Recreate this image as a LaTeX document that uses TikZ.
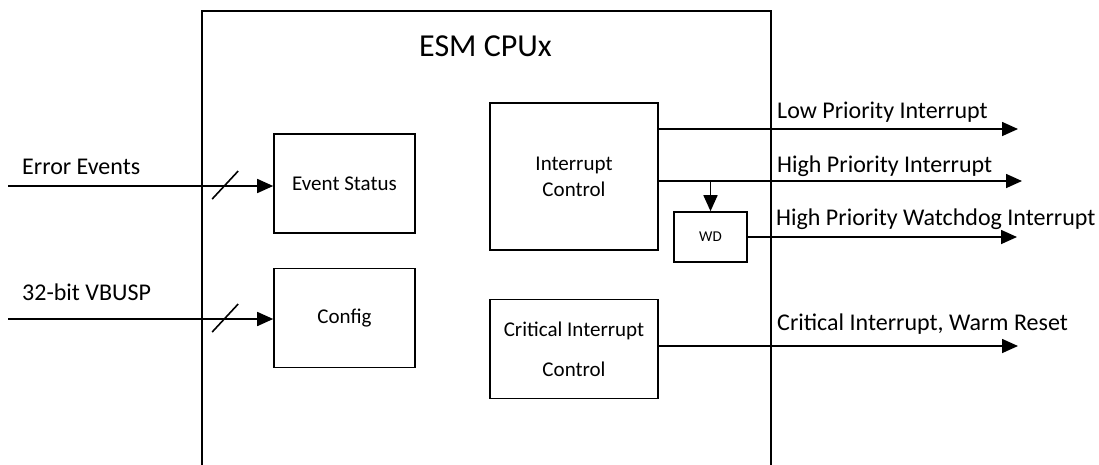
\documentclass[tikz,border=0pt]{standalone}
\usepackage{fontspec}
\setmainfont{Carlito}
\usepackage{tikz}
\usetikzlibrary{arrows.meta,positioning,calc}
\tikzset{
  >={Triangle[length=16pt,width=14pt]},
  eblock/.style={draw=black, line width=1.6pt, align=center, inner sep=0pt,
                 font=\fontsize{21}{26}\selectfont},
  eframe/.style={draw=black, line width=1.6pt},
  esig/.style={->, line width=1.6pt},
  ebus/.style={line width=1.6pt},
  elbl/.style={anchor=base west, inner sep=0pt, font=\fontsize{24}{28}\selectfont},
  etitle/.style={inner sep=0pt, font=\fontsize{32}{38}\selectfont},
}
\begin{document}
\begin{tikzpicture}[x=1pt,y=-1pt]
  \useasboundingbox (0,0) rectangle (1099,464);

  % CPU frame, runs off the bottom edge
  \node[eframe, anchor=north west, minimum width=569pt, minimum height=470pt]
    (cpu) at (201,10) {};
  \node[etitle] (title) at (485.5,46) {ESM CPUx};

  % blocks
  \node[eblock, minimum width=141pt, minimum height=99pt] (evstat) at (344.5,183.5) {Event Status};
  \node[eblock, minimum width=141pt, minimum height=99pt, below=34pt of evstat] (config) {Config};
  \node[eblock, minimum width=168pt, minimum height=147pt] (intc) at (574,176.5) {Interrupt\\Control};
  \node[eblock, minimum width=168pt, minimum height=99pt, below=48pt of intc,
        font=\fontsize{21}{40}\selectfont] (crit) {Critical Interrupt\\Control};
  \node[eblock, minimum width=73pt, minimum height=50pt, font=\fontsize{15}{18}\selectfont]
    (wd) at (710.5,237) {WD};

  % inputs
  \coordinate (errin) at (8,186);
  \coordinate (busin) at (8,319);
  \draw[esig] (errin) -- (evstat.west |- errin);
  \draw[esig] (busin) -- (config.west |- busin);
  \draw[ebus] ([xshift=-48pt]evstat.west |- errin) ++(-13,13) -- ++(26,-28);
  \draw[ebus] ([xshift=-48pt]config.west |- busin) ++(-13,13) -- ++(26,-28);
  \node[elbl] (errlbl) at (22,174) {Error Events};
  \node[elbl] (buslbl) at (22,300) {32-bit VBUSP};

  % outputs
  \coordinate (lowout) at (1018,129);
  \coordinate (hiout) at (1022,181);
  \coordinate (wdout) at (1017,237);
  \coordinate (critout) at (1018,346);
  \draw[esig] (intc.east |- lowout) -- (lowout);
  \draw[esig] (intc.east |- hiout) -- (hiout);
  \draw[esig] (wd.north |- hiout) -- (wd.north);
  \draw[esig] (wd.east) -- (wd.east -| wdout);
  \draw[esig] (crit.east |- critout) -- (critout);
  \node[elbl] (lowlbl) at (777,118) {Low Priority Interrupt};
  \node[elbl] (hilbl) at (777,172) {High Priority Interrupt};
  \node[elbl] (wdlbl) at (776,225) {High Priority Watchdog Interrupt};
  \node[elbl] (critlbl) at (777,330) {Critical Interrupt, Warm Reset};

\end{tikzpicture}
\end{document}
